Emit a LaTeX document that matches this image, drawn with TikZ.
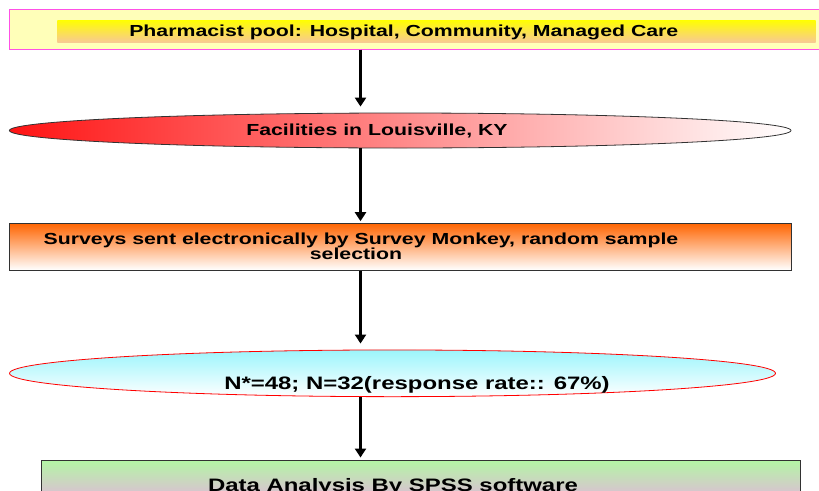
\documentclass[tikz,border=0pt]{standalone}
\usepackage{fontspec}
\setmainfont{Liberation Sans}[FakeStretch=1.33]
\usetikzlibrary{shapes.geometric,arrows.meta}
\definecolor{poolfill}{RGB}{255,255,185}
\definecolor{poolborder}{RGB}{255,80,230}
\definecolor{stripA}{RGB}{255,255,0}
\definecolor{stripB}{RGB}{248,200,150}
\definecolor{redL}{RGB}{255,20,20}
\definecolor{orangeT}{RGB}{255,100,0}
\definecolor{cyanT}{RGB}{155,245,252}
\definecolor{greenT}{RGB}{180,245,165}
\definecolor{pinkB}{RGB}{235,170,230}
\definecolor{edge}{RGB}{50,50,50}
\begin{document}
\begin{tikzpicture}[x=1pt,y=-1pt,
  txt/.style={inner sep=0pt, font=\bfseries\fontsize{16}{14.7}\selectfont, anchor=base},
  bigtxt/.style={txt, font=\bfseries\fontsize{18}{18}\selectfont},
  boxnode/.style={rectangle, inner sep=0pt, line width=1pt},
  ellnode/.style={ellipse, inner sep=0pt, line width=0.8pt},
  arr/.style={line width=2.7pt, -{Triangle[width=11pt,length=9pt]}}]
\useasboundingbox (0,0) rectangle (819,490);
\begin{scope}
\clip (0,0) rectangle (819,490);
% top pool box
\node[boxnode, draw=poolborder, fill=poolfill, minimum width=825.5pt, minimum height=39.5pt] (pool) at (422.25,29.25) {};
\node[boxnode, top color=stripA, bottom color=stripB, minimum width=758.4pt, minimum height=22.7pt] (strip) at (436.5,31.35) {};
\node[txt] (t1) at (403.8,36.3) {Pharmacist pool: Hospital, Community, Managed Care};
% ellipse 1
\node[ellnode, draw=edge, left color=redL, right color=white, minimum width=781.6pt, minimum height=35pt] (e1) at (400.2,130.5) {};
\node[txt] (t2) at (377,135.5) {Facilities in Louisville, KY};
% rect 3
\node[boxnode, draw=edge, top color=orangeT, bottom color=white, minimum width=781.6pt, minimum height=47pt] (r3) at (400.2,246.5) {};
\node[txt] (t3a) at (361,244.3) {Surveys sent electronically by Survey Monkey, random sample};
\node[txt] (t3b) at (356,259) {selection};
% ellipse 2
\node[ellnode, draw=red, top color=cyanT, bottom color=white, minimum width=766pt, minimum height=46.7pt] (e2) at (392.5,373.3) {};
\node[bigtxt] (t4) at (417,389.5) {N*=48; N=32(response rate:: 67\%)};
% bottom box
\node[boxnode, draw=edge, top color=greenT, bottom color=pinkB, minimum width=758.7pt, minimum height=49.3pt] (r5) at (420.65,485.35) {};
\node[bigtxt] (t5) at (393,491.2) {Data Analysis By SPSS software};
% connectors
\coordinate (ax) at (360.5,0);
\draw[arr, shorten >=6pt] (pool.south -| ax) -- (e1.north -| ax);
\draw[arr, shorten >=1.3pt] (e1.south -| ax) -- (r3.north -| ax);
\draw[arr, shorten >=6pt] (r3.south -| ax) -- (e2.north -| ax);
\draw[arr, shorten >=2.7pt] (e2.south -| ax) -- (r5.north -| ax);
\end{scope}
\end{tikzpicture}
\end{document}
